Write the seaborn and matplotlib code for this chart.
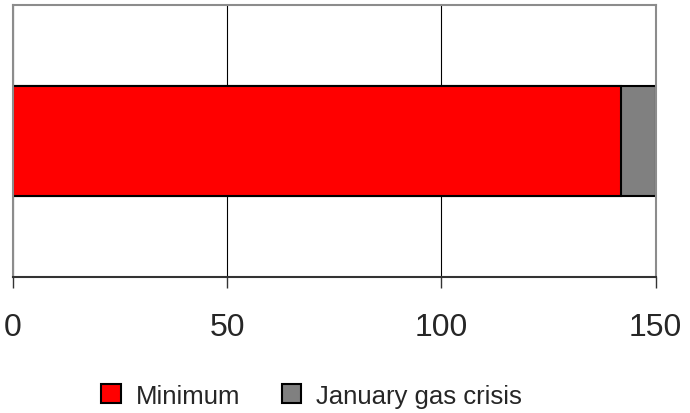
import matplotlib
matplotlib.use("Agg")
import matplotlib.pyplot as plt
import matplotlib.patches as mpatches
import seaborn as sns
import pandas as pd

# values
category = ["Supply"]
minimum = [142]
gas_crisis = [8]
series_names = ["Minimum", "January gas crisis"]
series_colors = ["#ff0000", "#808080"]
xticks = [0, 50, 100, 150]

sns.set_style("white")
plt.rcParams['font.family'] = ['Liberation Sans', 'DejaVu Sans']

df = pd.DataFrame({"cat": category, "min": minimum,
                   "total": [a + b for a, b in zip(minimum, gas_crisis)]})

fig = plt.figure(figsize=(6.9, 4.14), dpi=100)
ax = fig.add_axes([0.019, 0.3285, 0.931, 0.657])

# stacked look: total bar in grey, minimum drawn over it in red
sns.barplot(data=df, x="total", y="cat", orient="h", color=series_colors[1],
            width=0.405, edgecolor="black", linewidth=1.5, saturation=1, ax=ax)
sns.barplot(data=df, x="min", y="cat", orient="h", color=series_colors[0],
            width=0.405, edgecolor="black", linewidth=1.5, saturation=1, ax=ax)

ax.set_xlim(0, 150)
ax.set_ylim(0.5, -0.5)
ax.set_xticks(xticks)
ax.set_xticklabels([str(t) for t in xticks], fontsize=23)
ax.set_yticks([])
ax.set_xlabel("")
ax.set_ylabel("")
ax.xaxis.grid(True, color="black", linewidth=0.8)
ax.set_axisbelow(True)
ax.tick_params(axis="x", direction="out", length=8, width=1, color="#333333", pad=17, bottom=True)

for side in ["top", "right", "left"]:
    ax.spines[side].set_color("#8c8c8c")
    ax.spines[side].set_linewidth(1.5)
ax.spines["bottom"].set_color("#333333")
ax.spines["bottom"].set_linewidth(1.5)

handles = [mpatches.Patch(facecolor=c, edgecolor="black", linewidth=1.5, label=n)
           for n, c in zip(series_names, series_colors)]
fig.legend(handles=handles, loc="center", bbox_to_anchor=(0.452, 0.042), ncol=2,
           frameon=False, fontsize=18.5, handlelength=0.75, handleheight=0.75,
           handletextpad=0.6, columnspacing=1.6)

fig.savefig("out.png", dpi=100)
